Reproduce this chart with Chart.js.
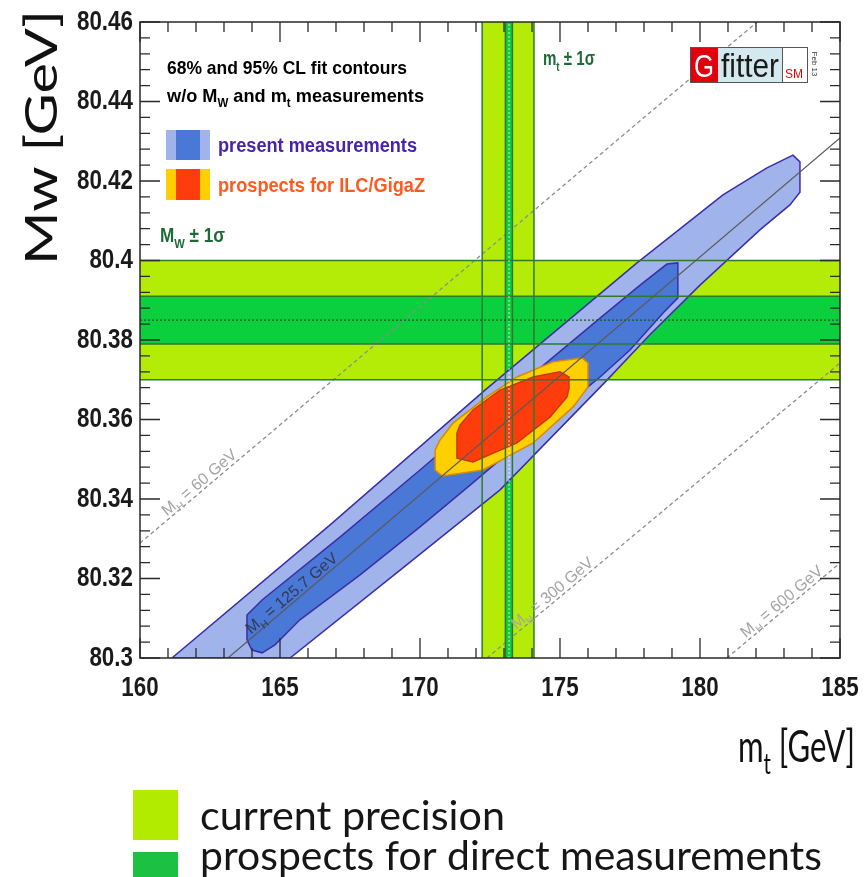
<!DOCTYPE html>
<html>
<head>
<meta charset="utf-8">
<script src="https://cdn.jsdelivr.net/npm/chart.js@4/dist/chart.umd.min.js"></script>
<style>
  html, body { margin: 0; padding: 0; background: #fff; }
  #wrap { width: 868px; height: 877px; position: relative; }
</style>
</head>
<body>
<div id="wrap"><canvas id="mwmt" width="868" height="877"></canvas></div>
<script>
// axis ranges and labelled ticks
var mtRange = [160, 185];
var mwRange = [80.30, 80.46];
var xTickLabels = ['160', '165', '170', '175', '180', '185'];
var yTickLabels = ['80.3', '80.32', '80.34', '80.36', '80.38', '80.4', '80.42', '80.44', '80.46'];

// direct measurement bands (GeV)
var mwNow = [80.370, 80.400];
var mwFuture = [80.379, 80.391];
var mwCentral = 80.385;
var mtNow = [172.22, 174.07];
var mtFuture = [173.05, 173.30];
var mtCentral = 173.18;

// fit contours, [mt, MW]
var present95 = [
  [161.14, 80.300], [166.79, 80.3335], [172.32, 80.3674], [177.75, 80.3994],
  [180.82, 80.4165], [182.39, 80.4233], [183.32, 80.4265], [183.57, 80.4248],
  [183.57, 80.4172], [183.21, 80.4140], [182.14, 80.4077], [180.00, 80.3938],
  [178.21, 80.3813], [176.61, 80.3694], [172.86, 80.3423], [169.29, 80.3221],
  [165.36, 80.300], [161.14, 80.300]
];
var present68 = [
  [163.82, 80.3045], [163.82, 80.3108], [164.36, 80.3146], [167.14, 80.3304],
  [170.00, 80.3473], [172.50, 80.3624], [174.64, 80.3750], [176.43, 80.3855],
  [177.86, 80.3938], [178.82, 80.3991], [179.21, 80.3994], [179.21, 80.3906],
  [178.68, 80.3868], [177.50, 80.3775], [176.43, 80.3707], [175.00, 80.3624],
  [173.57, 80.3541], [171.79, 80.3435], [170.00, 80.3330], [167.86, 80.3209],
  [165.71, 80.3096], [164.82, 80.3033], [164.36, 80.3013], [164.00, 80.3020],
  [163.82, 80.3045]
];
var ilc95 = [
  [170.54, 80.3523], [170.54, 80.3473], [170.79, 80.3458], [172.25, 80.3473],
  [174.04, 80.3541], [175.46, 80.3631], [176.00, 80.3682], [176.00, 80.3742],
  [175.79, 80.3755], [174.75, 80.3745], [173.46, 80.3707], [172.39, 80.3657],
  [171.18, 80.3591], [170.71, 80.3548], [170.54, 80.3523]
];
var ilc68 = [
  [171.32, 80.3566], [171.32, 80.3503], [171.89, 80.3493], [173.46, 80.3541],
  [174.64, 80.3606], [175.25, 80.3657], [175.32, 80.3679], [175.32, 80.3707],
  [175.00, 80.3720], [174.04, 80.3707], [172.86, 80.3674], [171.89, 80.3624],
  [171.43, 80.3586], [171.32, 80.3566]
];

// SM lines of constant Higgs mass
var mh60 = [[160.00, 80.3289], [182.04, 80.4600]];
var mh125 = [[163.14, 80.3000], [185.00, 80.4308]];
var mh300 = [[172.39, 80.3000], [185.00, 80.3742]];
var mh600 = [[180.96, 80.3000], [185.00, 80.3239]];

var C = {
  lime: '#b5ec07', green: '#0ccf3d', bandLine: '#2c7a30',
  blueL: '#a0b3ea', blueD: '#4a78d6', navy: '#3a2ea8',
  yellow: '#ffcf00', red: '#ff3d0c', yellowLine: '#d88a00', redLine: '#c53a08'
};

function pts(a) { return a.map(function (p) { return { x: p[0], y: p[1] }; }); }
function box(x0, x1, y0, y1) {
  return [{ x: x0, y: y0 }, { x: x1, y: y0 }, { x: x1, y: y1 }, { x: x0, y: y1 }, { x: x0, y: y0 }];
}
function hline(v) { return [{ x: mtRange[0], y: v }, { x: mtRange[1], y: v }]; }
function vline(v) { return [{ x: v, y: mwRange[0] }, { x: v, y: mwRange[1] }]; }

function area(data, color, order) {
  return { data: data, showLine: true, fill: 'shape', backgroundColor: color,
    borderColor: 'rgba(0,0,0,0)', borderWidth: 1, pointRadius: 0, order: order };
}
function contour(a, fillC, lineC, order) {
  return { data: pts(a), showLine: true, fill: 'shape', backgroundColor: fillC,
    borderColor: lineC, borderWidth: 1.5, pointRadius: 0, order: order };
}
function line(data, color, width, dash, order) {
  return { data: data, showLine: true, fill: false, borderColor: color, borderWidth: width,
    borderDash: dash, pointRadius: 0, order: order };
}

var datasets = [
  area(box(mtRange[0], mtRange[1], mwNow[0], mwNow[1]), C.lime, 30),
  area(box(mtNow[0], mtNow[1], mwRange[0], mwRange[1]), C.lime, 29),
  area(box(mtRange[0], mtRange[1], mwFuture[0], mwFuture[1]), C.green, 28),
  area(box(mtFuture[0], mtFuture[1], mwRange[0], mwRange[1]), C.green, 27),
  contour(present95, C.blueL, C.navy, 20),
  contour(present68, C.blueD, C.navy, 19),
  contour(ilc95, C.yellow, C.yellowLine, 18),
  contour(ilc68, C.red, C.redLine, 17),
  line(pts(mh60), '#8c8c8c', 1.3, [4, 3], 12),
  line(pts(mh300), '#8c8c8c', 1.3, [4, 3], 12),
  line(pts(mh600), '#8c8c8c', 1.3, [4, 3], 12),
  line(pts(mh125), '#5a5a5a', 1.2, [], 11),
  line(hline(mwNow[0]), C.bandLine, 1.5, [], 8),
  line(hline(mwNow[1]), C.bandLine, 1.5, [], 8),
  line(hline(mwFuture[0]), C.bandLine, 1.5, [], 8),
  line(hline(mwFuture[1]), C.bandLine, 1.5, [], 8),
  line(vline(mtNow[0]), C.bandLine, 1.5, [], 8),
  line(vline(mtNow[1]), C.bandLine, 1.5, [], 8),
  line(vline(mtFuture[0]), C.bandLine, 1.5, [], 8),
  line(vline(mtFuture[1]), C.bandLine, 1.5, [], 8),
  line(hline(mwCentral), '#135a1e', 1.2, [2, 2], 7),
  line(vline(mtCentral), 'rgba(255,255,255,0.8)', 1, [2, 2], 7)
];

function xLabel(v) { var s = String(v); return xTickLabels.indexOf(s) >= 0 ? s : ''; }
function yLabel(v) { var s = String(Math.round(v * 1000) / 1000); return yTickLabels.indexOf(s) >= 0 ? s : ''; }

// text with optional subscripts, squeezed/stretched to a target width
function rich(ctx, parts, x, y, o) {
  var size = o.size, fam = o.family, wt = o.weight || 'normal';
  var fMain = wt + ' ' + size + 'px ' + fam;
  var fSub = wt + ' ' + Math.round(size * 0.65) + 'px ' + fam;
  var w = 0;
  parts.forEach(function (p) { ctx.font = p[1] ? fSub : fMain; w += ctx.measureText(p[0]).width; });
  var k = o.width ? o.width / w : (o.sx || 1);
  ctx.save();
  ctx.translate(x, y);
  if (o.rot) ctx.rotate(o.rot);
  ctx.scale(k, 1);
  var cx = o.align === 'center' ? -w / 2 : (o.align === 'right' ? -w : 0);
  ctx.fillStyle = o.color || '#000';
  ctx.textBaseline = o.baseline || 'alphabetic';
  ctx.textAlign = 'left';
  parts.forEach(function (p) {
    ctx.font = p[1] ? fSub : fMain;
    ctx.fillText(p[0], cx, (o.dy || 0) + (p[1] ? size * 0.28 : 0));
    cx += ctx.measureText(p[0]).width;
  });
  ctx.restore();
}

var HELV = '"Liberation Sans", Arial, sans-serif';
var GILL = 'Lato, "Open Sans", sans-serif';

var decor = {
  id: 'decor',
  afterDatasetsDraw: function (chart) {
    var ctx = chart.ctx, ca = chart.chartArea, xs = chart.scales.x, ys = chart.scales.y;
    ctx.save();

    // M_H labels along the lines
    function mhLabel(l, at, txt, color) {
      var p1x = xs.getPixelForValue(l[0][0]), p1y = ys.getPixelForValue(l[0][1]);
      var p2x = xs.getPixelForValue(l[1][0]), p2y = ys.getPixelForValue(l[1][1]);
      var mw = l[0][1] + (at - l[0][0]) * (l[1][1] - l[0][1]) / (l[1][0] - l[0][0]);
      var ang = Math.atan2(p2y - p1y, p2x - p1x);
      rich(ctx, [['M'], ['H', 1], [' = ' + txt]], xs.getPixelForValue(at), ys.getPixelForValue(mw),
        { size: 16, family: HELV, color: color, align: 'center', rot: ang, dy: -3 });
    }
    ctx.save();
    ctx.beginPath(); ctx.rect(ca.left, ca.top, ca.right - ca.left, ca.bottom - ca.top); ctx.clip();
    mhLabel(mh60, 162.3, '60 GeV', '#a5a5a5');
    mhLabel(mh125, 165.6, '125.7 GeV', '#333a55');
    mhLabel(mh300, 174.9, '300 GeV', '#a5a5a5');
    mhLabel(mh600, 183.1, '600 GeV', '#a5a5a5');
    ctx.restore();

    // frame and inside ticks on all four sides
    ctx.strokeStyle = '#2a2a2a';
    ctx.lineWidth = 1.5;
    ctx.strokeRect(ca.left, ca.top, ca.right - ca.left, ca.bottom - ca.top);
    ctx.lineWidth = 1.3;
    ctx.beginPath();
    xs.ticks.forEach(function (t) {
      var px = xs.getPixelForValue(t.value), len = xLabel(t.value) ? 20 : 10;
      ctx.moveTo(px, ca.bottom); ctx.lineTo(px, ca.bottom - len);
      ctx.moveTo(px, ca.top); ctx.lineTo(px, ca.top + len);
    });
    ys.ticks.forEach(function (t) {
      var py = ys.getPixelForValue(t.value), len = yLabel(t.value) ? 20 : 10;
      ctx.moveTo(ca.left, py); ctx.lineTo(ca.left + len, py);
      ctx.moveTo(ca.right, py); ctx.lineTo(ca.right - len, py);
    });
    ctx.stroke();

    // tick labels (condensed bold, as in the original)
    xs.ticks.forEach(function (t) {
      var s = xLabel(t.value);
      if (s) rich(ctx, [[s]], xs.getPixelForValue(t.value), ca.bottom + 30,
        { size: 28, weight: 'bold', family: HELV, color: '#1a1a1a', align: 'center', baseline: 'middle', sx: 0.8 });
    });
    ys.ticks.forEach(function (t) {
      var s = yLabel(t.value);
      if (s) rich(ctx, [[s]], ca.left - 7, ys.getPixelForValue(t.value),
        { size: 28, weight: 'bold', family: HELV, color: '#1a1a1a', align: 'right', baseline: 'middle', sx: 0.8 });
    });

    // fit legend (top left)
    var L = ca.left, T = ca.top;
    rich(ctx, [['68% and 95% CL fit contours']], L + 27, T + 52, { size: 19, weight: 'bold', family: HELV, width: 240 });
    rich(ctx, [['w/o M'], ['W', 1], [' and m'], ['t', 1], [' measurements']], L + 27, T + 80,
      { size: 19, weight: 'bold', family: HELV, width: 257 });
    ctx.fillStyle = C.blueL; ctx.fillRect(L + 26, T + 108, 44, 30);
    ctx.fillStyle = C.blueD; ctx.fillRect(L + 36, T + 108, 24, 30);
    ctx.fillStyle = C.yellow; ctx.fillRect(L + 26, T + 147, 44, 31);
    ctx.fillStyle = C.red; ctx.fillRect(L + 36, T + 147, 24, 31);
    rich(ctx, [['present measurements']], L + 78, T + 130, { size: 20, weight: 'bold', family: HELV, color: '#4a24a8', width: 199 });
    rich(ctx, [['prospects for ILC/GigaZ']], L + 78, T + 170, { size: 20, weight: 'bold', family: HELV, color: '#ff5a1e', width: 207 });

    // band labels
    rich(ctx, [['M'], ['W', 1], [' \u00b1 1\u03c3']], L + 20, T + 220, { size: 20, weight: 'bold', family: HELV, color: '#1f6b37', width: 65 });
    rich(ctx, [['m'], ['t', 1], [' \u00b1 1\u03c3']], xs.getPixelForValue(mtNow[1]) + 9, T + 43, { size: 20, weight: 'bold', family: HELV, color: '#1f6b37', width: 52 });

    // Gfitter logo
    var lx = ca.right - 150, ly = ca.top + 25;
    ctx.fillStyle = '#e2000f'; ctx.fillRect(lx, ly, 28, 35);
    ctx.fillStyle = '#d3e9ef'; ctx.fillRect(lx + 28, ly, 64, 35);
    ctx.fillStyle = '#ffffff'; ctx.fillRect(lx + 92, ly, 25, 35);
    ctx.strokeStyle = '#555'; ctx.lineWidth = 1;
    ctx.strokeRect(lx + 0.5, ly + 0.5, 117, 35);
    ctx.beginPath(); ctx.moveTo(lx + 92.5, ly); ctx.lineTo(lx + 92.5, ly + 35); ctx.stroke();
    rich(ctx, [['G']], lx + 14, ly + 30, { size: 32, family: HELV, color: '#fff', align: 'center', width: 20 });
    rich(ctx, [['fitter']], lx + 60, ly + 30, { size: 33, family: HELV, color: '#1a1a1a', align: 'center', width: 58 });
    rich(ctx, [['SM']], lx + 104, ly + 31, { size: 12, family: HELV, color: '#e2000f', align: 'center', width: 18 });
    rich(ctx, [['Feb 13']], lx + 120, ly + 17, { size: 8, family: HELV, color: '#333', align: 'center', rot: Math.PI / 2, baseline: 'bottom' });

    // axis titles
    rich(ctx, [['Mw [GeV]']], 43, 265, { size: 44, family: GILL, color: '#111', rot: -Math.PI / 2, baseline: 'middle', width: 255 });
    rich(ctx, [['m'], ['t', 1], [' [GeV]']], 855, 762, { size: 44, family: GILL, color: '#111', align: 'right', width: 117 });

    // bottom legend
    ctx.fillStyle = '#b2ea00'; ctx.fillRect(133, 790, 45, 50);
    ctx.fillStyle = '#1cc043'; ctx.fillRect(133, 852, 45, 30);
    rich(ctx, [['current precision']], 200, 830, { size: 40, family: GILL, color: '#161616', width: 305 });
    rich(ctx, [['prospects for direct measurements']], 200, 870, { size: 40, family: GILL, color: '#161616', width: 622 });

    ctx.restore();
  }
};

new Chart(document.getElementById('mwmt'), {
  type: 'scatter',
  data: { datasets: datasets },
  options: {
    responsive: false,
    animation: false,
    events: [],
    layout: { padding: { left: 0, right: 28, top: 22, bottom: 159 } },
    plugins: { legend: { display: false }, tooltip: { enabled: false } },
    scales: {
      x: {
        type: 'linear', min: mtRange[0], max: mtRange[1],
        afterBuildTicks: function (s) {
          s.ticks = [];
          for (var v = mtRange[0]; v <= mtRange[1]; v++) s.ticks.push({ value: v });
        },
        afterFit: function (s) { s.height = 60; },
        grid: { display: false, drawTicks: false },
        border: { display: false },
        ticks: { display: false, autoSkip: false, callback: xLabel }
      },
      y: {
        type: 'linear', min: mwRange[0], max: mwRange[1],
        afterBuildTicks: function (s) {
          s.ticks = [];
          for (var i = 0; i <= 40; i++) s.ticks.push({ value: Math.round((mwRange[0] + i * 0.004) * 1000) / 1000 });
        },
        afterFit: function (s) { s.width = 140; },
        grid: { display: false, drawTicks: false },
        border: { display: false },
        ticks: { display: false, autoSkip: false, callback: yLabel }
      }
    }
  },
  plugins: [decor]
});
</script>
</body>
</html>
